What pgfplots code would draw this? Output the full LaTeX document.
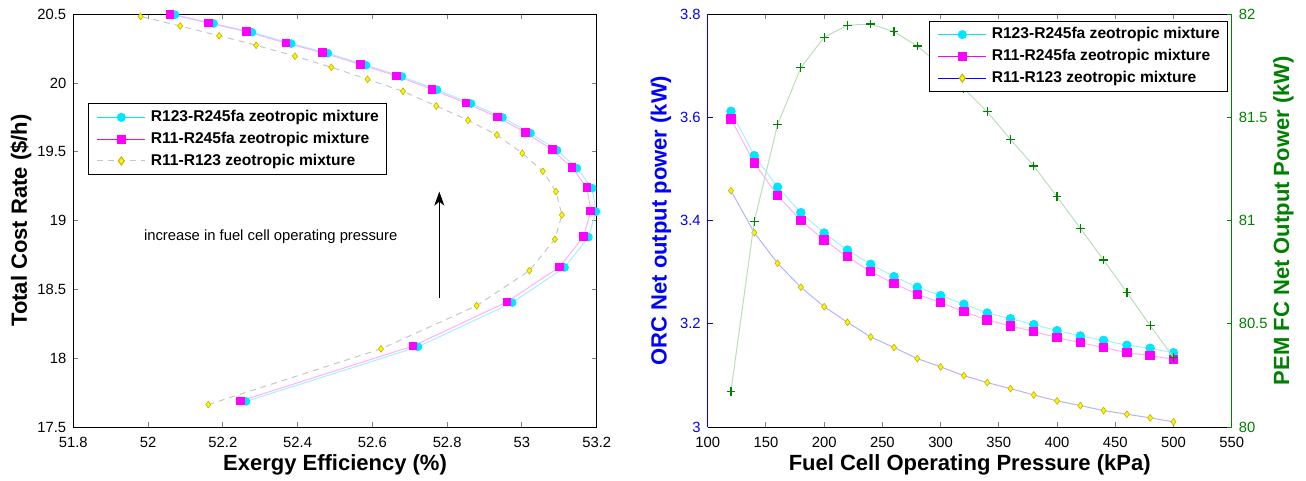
\documentclass[border=0pt]{standalone}
\usepackage{fontspec}
\setmainfont{Liberation Sans}
\usepackage{pgfplots}
\pgfplotsset{compat=1.18}
\usetikzlibrary{arrows.meta}
\definecolor{mcyan}{RGB}{0,230,255}
\definecolor{mmag}{RGB}{255,0,255}
\definecolor{myel}{RGB}{255,245,0}
\definecolor{myeledge}{RGB}{190,180,0}
\definecolor{mgreen}{RGB}{0,128,0}
\definecolor{mblue}{RGB}{0,0,255}
\definecolor{lcyan}{RGB}{165,240,255}
\definecolor{lmag}{RGB}{255,175,255}
\definecolor{lblue}{RGB}{180,180,245}
\definecolor{lgreen}{RGB}{185,222,185}
\newcommand\tickfont{\fontsize{7.4}{8.9}\selectfont}
\newcommand\labfont{\fontsize{11}{13}\selectfont\bfseries}
\newcommand\legfont{\fontsize{7.8}{9.4}\selectfont\bfseries}
\pgfplotsset{
 mybase/.style={
  scale only axis, height=206.35pt,
  tick label style={font=\tickfont},
  /pgf/number format/assume math mode=true,
  major tick length=2.5pt,
  tick align=inside,
  every tick/.append style={line width=0.5pt},
  axis line style={line width=0.5pt},
  clip=false,
  xticklabel style={yshift=-1.5pt},
  every axis x label/.style={at={(axis description cs:0.5,0)}, anchor=center, yshift=-19pt, font=\labfont},
  legend cell align=left,
  legend image code/.code={\draw[mark repeat=2,mark phase=2,##1] plot coordinates {(0pt,0pt) (12pt,0pt) (24pt,0pt)};},
  legend style={font=\legfont, draw=black, line width=0.5pt, fill=white, inner xsep=4pt, inner ysep=3pt, row sep=3.5pt, column sep=2.5pt, nodes={inner sep=0pt, text height=5.8pt, text depth=1.6pt}},
 },
 cyanleg/.style={color=mcyan, line width=0.5pt, mark=*, mark size=2pt, mark options={fill=mcyan, draw=mcyan}},
 magleg/.style={color=mmag, line width=0.5pt, mark=square*, mark size=2pt, mark options={fill=mmag, draw=mmag}},
}
\begin{document}
\begin{tikzpicture}
\path[use as bounding box] (0,0) rectangle (653pt,-240.5pt);
% ---------------- left plot ----------------
\begin{axis}[mybase, at={(36.65pt,-213.5pt)}, anchor=south west, width=261.7pt,
 xmin=51.8, xmax=53.2, ymin=17.5, ymax=20.5,
 xtick={51.8,52,52.2,52.4,52.6,52.8,53,53.2},
 ytick={17.5,18,18.5,19,19.5,20,20.5},
 xlabel={Exergy Efficiency (\%)}, ylabel={Total Cost Rate (\$/h)},
 every axis y label/.style={at={(axis description cs:-0.0999,0.5)}, rotate=90, anchor=center, font=\labfont},
 legend style={at={(0.0287,0.784)}, anchor=north west},
]
\addlegendimage{cyanleg}
\addlegendentry{R123-R245fa zeotropic mixture}
\addlegendimage{magleg}
\addlegendentry{R11-R245fa zeotropic mixture}
\addlegendimage{color=gray!45, line width=0.5pt, dash pattern=on 3pt off 2.5pt, mark=diamond*, mark size=2pt, mark options={solid, fill=myel, draw=myeledge}}
\addlegendentry{R11-R123 zeotropic mixture}
\addplot[forget plot, color=lcyan, line width=0.5pt, mark=*, mark size=1.9pt, mark options={fill=mcyan, draw=mcyan}] table {
x y
52.262 17.686
52.722 18.083
52.974 18.404
53.114 18.660
53.178 18.880
53.198 19.066
53.188 19.236
53.147 19.381
53.094 19.512
53.023 19.636
52.948 19.750
52.864 19.851
52.773 19.951
52.679 20.048
52.583 20.130
52.481 20.217
52.383 20.287
52.278 20.370
52.175 20.433
52.072 20.497
};
\addplot[forget plot, color=lmag, line width=0.5pt, mark=square*, mark size=1.9pt, mark options={fill=mmag, draw=mmag}] table {
x y
52.248 17.690
52.709 18.089
52.960 18.409
53.101 18.664
53.165 18.884
53.184 19.070
53.174 19.240
53.134 19.385
53.081 19.516
53.010 19.640
52.934 19.754
52.850 19.855
52.759 19.955
52.665 20.052
52.569 20.134
52.467 20.221
52.369 20.291
52.264 20.374
52.161 20.437
52.059 20.500
};
\addplot[forget plot, color=gray!45, line width=0.5pt, dash pattern=on 3pt off 2.5pt, mark=diamond*, mark size=1.7pt, mark options={solid, fill=myel, draw=myeledge, line width=0.3pt}] table {
x y
52.161 17.663
52.623 18.068
52.879 18.382
53.020 18.637
53.088 18.865
53.107 19.041
53.091 19.211
53.056 19.359
53.001 19.490
52.933 19.623
52.856 19.730
52.771 19.834
52.682 19.940
52.587 20.028
52.490 20.115
52.393 20.195
52.289 20.275
52.190 20.344
52.086 20.415
51.980 20.485
};
\node[font=\tickfont] at (axis cs:52.328,18.882) {increase in fuel cell operating pressure};
\draw[line width=0.5pt, -{Stealth[length=7pt,width=5pt,inset=2pt]}] (axis cs:52.779,18.436) -- (axis cs:52.779,19.211);
\end{axis}
% ---------------- right plot: ORC ----------------
\begin{axis}[mybase, at={(353.85pt,-213.5pt)}, anchor=south west, width=262pt,
 xmin=100, xmax=550, ymin=3, ymax=3.8,
 xtick={100,150,200,250,300,350,400,450,500,550},
 ytick={3,3.2,3.4,3.6,3.8},
 axis x line*=box, axis y line*=left,
 x axis line style={-}, y axis line style={-, mblue},
 every y tick/.append style={mblue}, every major y tick/.append style={mblue},
 yticklabel style={mblue},
 xlabel={Fuel Cell Operating Pressure (kPa)}, ylabel={ORC Net output power (kW)},
 every axis y label/.style={at={(axis description cs:-0.0891,0.5)}, rotate=90, anchor=center, font=\labfont, text=mblue},
]
\addplot[forget plot, color=lcyan, line width=0.5pt, mark=*, mark size=2.1pt, mark options={fill=mcyan, draw=mcyan}] table {
x y
120 3.612
140 3.526
160 3.465
180 3.4155
200 3.376
220 3.343
240 3.3155
260 3.2915
280 3.271
300 3.2547
320 3.238
340 3.221
360 3.210
380 3.1985
400 3.1868
420 3.1765
440 3.168
460 3.1585
480 3.1527
500 3.144
};
\addplot[forget plot, color=lmag, line width=0.5pt, mark=square*, mark size=2.1pt, mark options={fill=mmag, draw=mmag}] table {
x y
120 3.597
140 3.512
160 3.4485
180 3.400
200 3.3626
220 3.330
240 3.301
260 3.278
280 3.2574
300 3.241
320 3.2237
340 3.2076
360 3.196
380 3.185
400 3.1733
420 3.1636
440 3.154
460 3.144
480 3.1384
500 3.1314
};
\addplot[forget plot, color=lblue, line width=0.5pt, mark=diamond*, mark size=1.7pt, mark options={fill=myel, draw=myeledge, line width=0.3pt}] table {
x y
120 3.458
140 3.3767
160 3.3174
180 3.271
200 3.2333
220 3.203
240 3.1746
260 3.154
280 3.1326
300 3.1165
320 3.0996
340 3.0861
360 3.0744
380 3.0622
400 3.0506
420 3.0415
440 3.0318
460 3.0248
480 3.0177
500 3.010
};
\end{axis}
% ---------------- right plot: PEM FC ----------------
\begin{axis}[mybase, at={(353.85pt,-213.5pt)}, anchor=south west, width=262pt,
 xmin=100, xmax=550, ymin=80, ymax=82,
 ytick={80,80.5,81,81.5,82},
 axis x line=none, axis y line*=right,
 y axis line style={-, mgreen},
 every y tick/.append style={mgreen}, every major y tick/.append style={mgreen},
 yticklabel style={mgreen},
 ylabel={PEM FC Net Output Power (kW)},
 every axis y label/.style={at={(axis description cs:1.0985,0.5)}, rotate=90, anchor=center, font=\labfont, text=mgreen},
 legend style={at={(0.9935,0.9845)}, anchor=north east},
]
\addlegendimage{cyanleg}
\addlegendentry{R123-R245fa zeotropic mixture}
\addlegendimage{magleg}
\addlegendentry{R11-R245fa zeotropic mixture}
\addlegendimage{color=mblue, line width=0.5pt, mark=diamond*, mark size=2pt, mark options={fill=myel, draw=myeledge}}
\addlegendentry{R11-R123 zeotropic mixture}
\addplot[forget plot, color=lgreen, line width=0.5pt, mark=+, mark size=2.2pt, mark options={draw=mgreen, line width=0.6pt}] table {
x y
120 80.174
140 80.997
160 81.465
180 81.741
200 81.889
220 81.947
240 81.953
260 81.916
280 81.846
300 81.751
320 81.641
340 81.528
360 81.394
380 81.265
400 81.116
420 80.963
440 80.809
460 80.653
480 80.491
500 80.338
};
\end{axis}
\end{tikzpicture}
\end{document}
